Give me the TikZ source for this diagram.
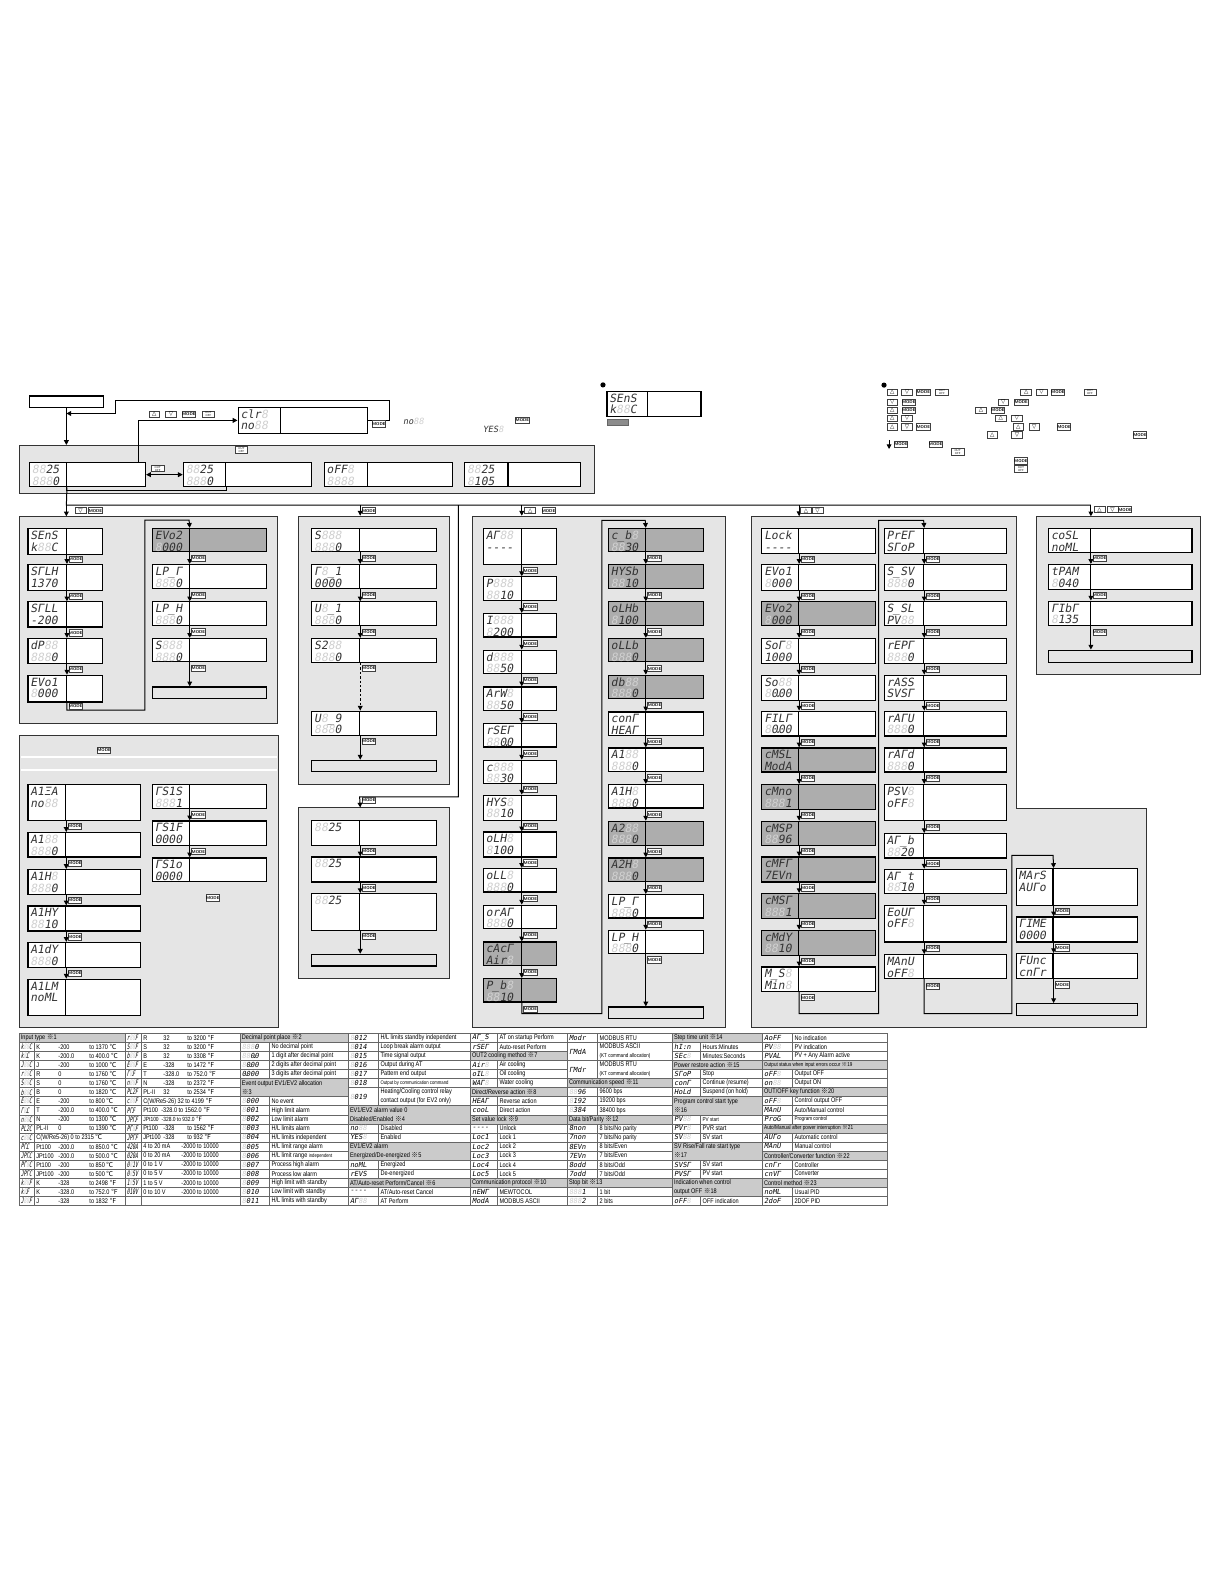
\documentclass[tikz,border=0pt]{standalone}
\usepackage{fontspec}
\setmainfont{Liberation Sans}
\newfontfamily\segfont[FakeSlant=0.18]{DejaVu Sans Mono}
\newfontfamily\tsegfont[FakeSlant=0.18,FakeStretch=0.6]{DejaVu Sans Mono}
\newfontfamily\tabfont[FakeStretch=0.82]{Liberation Sans}
\newfontfamily\symfont{DejaVu Sans}
\newfontfamily\cjk{Noto Sans CJK JP}
\usetikzlibrary{arrows.meta,positioning,calc,fit}
\definecolor{panelgrey}{HTML}{E5E5E5}
\definecolor{boxgrey}{HTML}{ADADAD}
\definecolor{headgrey}{HTML}{CBCBCB}
\definecolor{unlit}{HTML}{D0D0D0}
\newcommand\bk{{\color{unlit}8}}
\newcommand\dpt{\makebox[0pt]{.}}
\newcommand\km{{\cjk ※}}
\newcommand\dC{{\cjk ℃}}
\newcommand\dF{{\cjk ℉}}
\newcommand\rg[3]{\makebox[11bp][l]{#1}\makebox[15.5bp][l]{#2}to #3}
\newcommand\rgb[3]{\makebox[10bp][l]{#1}\makebox[12bp][l]{#2}to #3}
\newcommand\narrowseg{\tsegfont\fontsize{3.8}{3.8}\selectfont}
\newcommand\wideseg{\segfont\fontsize{3.5}{3.5}\selectfont}
\tikzset{panel/.style={draw=black!80,fill=panelgrey,line width=.5pt,inner sep=0pt},dbox/.style={draw,line width=.6pt,inner sep=0pt},endbox/.style={draw,fill=panelgrey,line width=.6pt,inner sep=0pt},seg/.style={anchor=west,inner sep=0pt,text=black!80,font=\segfont\fontsize{5.7}{5.7}\selectfont,text height=4.2pt,text depth=0pt},flow/.style={line width=.5pt,-{Triangle[length=2.4pt,width=2.4pt]}},wire/.style={line width=.5pt},keycap/.style={draw=black!75,line width=.3pt,fill=white,inner sep=0pt,minimum height=3.1bp},modekey/.style={keycap,minimum width=6.2bp,font=\sffamily\bfseries\fontsize{2.1}{2.1}\selectfont},arrkey/.style={keycap,minimum width=5.4bp,font=\symfont\fontsize{2.8}{2.8}\selectfont},outkey/.style={keycap,minimum width=6.2bp,align=center,font=\sffamily\fontsize{1.4}{1.5}\selectfont},tline/.style={draw=black!60,line width=.3pt},tcode/.style={anchor=west,inner sep=0pt,font=\tcf},tdesc/.style={anchor=west,inner sep=0pt,align=left,font=\tabfont\fontsize{3.4}{4.5}\selectfont}}
\newcommand\disp[9]{\node[dbox,fill=#7,fit={(#2,#5) (#3,#6)}] (#1) {};\node[dbox,fill=#7,fit={(#3,#5) (#4,#6)}] (#1d) {};\node[seg] (#1a) at ({#2+2},{#5+6.6}) {#8};\node[seg] (#1b) at ({#2+2},{#5+18.2}) {#9};}
\newcommand\dcol[4]{\foreach \n/\ya/\yb/\f/\ta/\tb in {#4}{\disp{\n}{#1}{#2}{#3}{\ya}{\yb}{\f}{\ta}{\tb}}}
\newcommand\fchain[1]{\foreach \src/\dst in {#1}{\draw[flow] (\src.south east) -- (\src.south east |- \dst.north);\node[modekey] (k\src) at ($(\src.south east)!.5!(\src.south east |- \dst.north)+(8.6,0)$) {MODE};}}
\newcommand\fend[2]{\draw[flow] (#1.south east) -- (#1.south east |- #2.north);\node[modekey] (k#1) at ($(#1.south east)+(8.6,5.5)$) {MODE};}
\newcommand\grp[4]{\def\gn{#1}\def\xa{#2}\def\xb{#3}\def\xc{#4}}
\newcommand\trow[4]{\draw[tline] (\xa,{1022.9+#1*8.96}) rectangle (\xb,{1022.9+(#1+#2)*8.96});\draw[tline] (\xb,{1022.9+#1*8.96}) rectangle (\xc,{1022.9+(#1+#2)*8.96});\node[tcode] (\gn#1c) at ({\xa+1.5},{1022.9+(#1+#2/2)*8.96}) {#3};\node[tdesc] (\gn#1d) at ({\xb+2},{1022.9+(#1+#2/2)*8.96}) {#4};}
\newcommand\thd[3]{\draw[tline,fill=headgrey] (\xa,{1022.9+#1*8.96}) rectangle (\xc,{1022.9+(#1+#2)*8.96});\node[tdesc] (\gn#1h) at ({\xa+1.5},{1022.9+(#1+#2/2)*8.96}) {#3};}

\begin{document}
\begin{tikzpicture}[x=0.505bp,y=-0.505bp]
\useasboundingbox (0,0) rectangle (1212,1568);
\fill[white] (0,0) rectangle (1212,1568);
\node[panel,fit={(19.7,441) (588.2,488.5)}] (p0) {};
\node[panel,fit={(19.5,511.6) (274.6,716.2)}] (p1) {};
\node[panel,fit={(19.5,727.8) (275.3,1017)}] (p2) {};
\node[panel,fit={(295.4,511) (444.6,776.6)}] (p3) {};
\node[panel,fit={(295.4,799.8) (444.6,968.7)}] (p3b) {};
\node[panel,fit={(468,511) (718,1017)}] (p4) {};
\draw[panel] (744.3,511) -- (1006,511) -- (1006,800.4) -- (1134.8,800.4) -- (1134.8,1017) -- (744.3,1017) -- cycle;
\coordinate (p5) at (744.3,511);
\node[panel,fit={(1025.9,511.6) (1188.3,667.7)}] (p6) {};
\draw[white,line width=.6pt] (20.5,749.3) -- (274.3,749.3);
\draw[white,line width=.9pt] (20.5,762.5) -- (274.3,762.5);
\node[dbox,fill=white,fit={(29,392) (102.4,403.3)}] (tl) {};
\disp{clr}{235.7}{277.8}{363.8}{403.3}{429}{white}{clr\bk}{no\bk\bk}
\disp{sens}{600.8}{641.3}{694}{387.2}{412.6}{white}{SEnS}{k\bk\bk C}
\node[draw=black!60,fill=black!45,inner sep=0pt,fit={(601.5,415.2) (622,420.8)}] (sw) {};
\node[circle,fill=black,inner sep=0pt,minimum size=2.6bp] (dot1) at (596.9,381) {};
\node[circle,fill=black,inner sep=0pt,minimum size=2.6bp] (dot2) at (875.1,381.2) {};
\node[seg,font=\segfont\fontsize{4.3}{4.3}\selectfont,text height=3.1pt] (ono) at (398.7,417.5) {no\bk\bk};
\node[seg,font=\segfont\fontsize{4.3}{4.3}\selectfont,text height=3.1pt] (oyes) at (477.5,425) {YES\bk};
\disp{runA}{29.2}{65.7}{144}{457.8}{481.9}{white}{\bk\bk25}{\bk\bk\bk0}
\disp{runB}{181.5}{223.6}{308.5}{457.8}{481.9}{white}{\bk\bk25}{\bk\bk\bk0}
\disp{runC}{321}{363.8}{448}{457.8}{481.9}{white}{oFF\bk}{\bk\bk\bk\bk}
\disp{runD}{460}{502.9}{575}{457.8}{481.9}{white}{\bk\bk25}{\bk105}
\dcol{27.7}{65.7}{101.3}{s1/523.1/548.9/white/SEnS/k\bk\bk C,%
s2/558.8/584.2/white/SΓLH/1370,%
s3/595.8/620.6/white/SΓLL/-200,%
s4/632/656.8/white/dP\bk\bk/\bk\bk\bk0,%
s5/668.4/694.8/white/EVo1/\bk000}
\dcol{150.8}{187.2}{263.7}{s6/523.1/546.2/boxgrey/EVo2/\bk000,%
s7/558.8/582.5/white/LP\_Γ/\bk\bk\bk0,%
s8/595.8/618.8/white/LP\_H/\bk\bk\bk0,%
s9/632/655.2/white/S\bk\bk\bk/\bk\bk\bk0}
\dcol{27.7}{65}{139}{a1/776.6/812/white/A1ΞA/no\bk\bk,%
a2/824.2/848.3/white/A1\bk\bk/\bk\bk\bk0,%
a3/860.8/885.2/white/A1H\bk/\bk\bk\bk0,%
a4/896.8/921.6/white/A1HY/\bk\bk10,%
a5/933/957.8/white/A1dY/\bk\bk\bk0,%
a6/969.4/1005.6/white/A1LM/noML}
\dcol{150.8}{187.2}{263.7}{a7/776.6/800.4/white/ΓS1S/\bk\bk\bk1,%
a8/812.6/836.7/white/ΓS1F/0000,%
a9/849.3/872.4/white/ΓS1o/0000}
\dcol{308.6}{356}{431.7}{v1/523.1/546.2/white/S\bk\bk\bk/\bk\bk\bk0,%
v2/558.8/582.5/white/Γ\bk\_1/0000,%
v3/595.8/619.5/white/U\bk\_1/\bk\bk\bk0,%
v4/632/655.8/white/S2\bk\bk/\bk\bk\bk0,%
v5/704/727.8/white/U\bk\_9/\bk\bk\bk0,%
w1/812/836.7/white/\bk\bk25/{},%
w2/848.3/873/white/\bk\bk25/{},%
w3/884.6/920.9/white/\bk\bk25/{}}
\dcol{478.6}{515.9}{551.2}{t1/523.1/558.8/white/AΓ\bk\bk/-{}-{}-{}-,%
t2/571/594.2/white/P\bk\bk\bk/\bk\bk10,%
t3/607.3/630.5/white/I\bk\bk\bk/\bk200,%
t4/643.6/666.7/white/d\bk\bk\bk/\bk\bk50,%
t5/680/703/white/ArW\bk/\bk\bk50,%
t6/716.2/739.4/white/rSEΓ/\bk\bk0\dpt0,%
t7/752.6/775.6/white/c\bk\bk\bk/\bk\bk30,%
t8/787.2/812/white/HYS\bk/\bk\bk10,%
t9/823.6/848.3/white/oLH\bk/\bk100,%
t10/859.8/883/white/oLL\bk/\bk\bk\bk0,%
t11/896.1/919.2/white/orAΓ/\bk\bk\bk0,%
t12/932.5/955.5/boxgrey/cAcΓ/Air\bk,%
t13/968.7/991.8/boxgrey/P\_b\bk/\bk\bk10}
\dcol{602.4}{638.7}{696.4}{u1/523.1/546.2/boxgrey/c\_b\bk/\bk\bk30,%
u2/558.8/582.5/boxgrey/HYSb/\bk\bk10,%
u3/595.8/618.8/boxgrey/oLHb/\bk100,%
u4/632/655.2/boxgrey/oLLb/\bk\bk\bk0,%
u5/668.4/691.5/boxgrey/db\bk\bk/\bk\bk\bk0,%
u6/704.7/727.8/white/conΓ/HEAΓ,%
u7/740.4/763.4/white/A1\bk\bk/\bk\bk\bk0,%
u8/776.6/799.8/white/A1H\bk/\bk\bk\bk0,%
u9/813/836.7/boxgrey/A2\bk\bk/\bk\bk\bk0,%
u10/849.3/872.4/boxgrey/A2H\bk/\bk\bk\bk0,%
u11/885.5/908.7/white/LP\_Γ/\bk\bk\bk0,%
u12/920.9/944/white/LP\_H/\bk\bk\bk0}
\dcol{754.2}{790.5}{866.4}{l1/523.1/547.9/white/Lock/-{}-{}-{}-,%
l2/558.8/584.2/white/EVo1/\bk000,%
l3/595.8/619.5/boxgrey/EVo2/\bk000,%
l4/632/656.8/white/SoΓ\bk/1000,%
l5/668.4/693.2/white/So\bk\bk/\bk0\dpt00,%
l6/704/728.5/white/FILΓ/\bk0\dpt00,%
l7/740.4/764.2/boxgrey/cMSL/ModA,%
l8/776.6/801.1/boxgrey/cMno/\bk\bk\bk1,%
l9/813/836.7/boxgrey/cMSP/\bk\bk96,%
l10/848.3/873/boxgrey/cMFΓ/7EVn,%
l11/884.6/909.3/boxgrey/cMSΓ/\bk\bk\bk1,%
l12/920.9/945.7/boxgrey/cMdY/\bk\bk10,%
l13/957.2/981.3/white/M\_S\bk/Min\bk}
\dcol{875.3}{914.3}{996}{r1/523.1/547.9/white/PrEΓ/SΓoP,%
r2/558.8/584.2/white/S\_SV/\bk\bk\bk0,%
r3/595.8/619.5/white/S\_SL/PV\bk\bk,%
r4/632/656.8/white/rEPΓ/\bk\bk\bk0,%
r5/668.4/693.2/white/rASS/SVSΓ,%
r6/704/728.5/white/rAΓU/\bk\bk\bk0,%
r7/740.4/764.2/white/rAΓd/\bk\bk\bk0,%
r8/776.6/812/white/PSV\bk/oFF\bk,%
r9/825.2/849.3/white/AΓ\_b/\bk\bk20,%
r10/860.5/884.6/white/AΓ\_t/\bk\bk10,%
r11/896.1/932.5/white/EoUΓ/oFF\bk,%
r12/945/968.7/white/MAnU/oFF\bk}
\dcol{1006}{1042.4}{1126.2}{m1/859.8/896.1/white/MArS/AUΓo,m2/907.7/932.5/white/ΓIME/0000,m3/944/968.7/white/FUnc/cnΓr}
\dcol{1038}{1079.3}{1180}{c1/523.1/546.9/white/coSL/noML,c2/558.8/583.2/white/tPAM/\bk040,c3/595.1/619.5/white/ΓIbΓ/\bk135}
\foreach \n/\ya/\yb/\xl/\xr in {e1/680/691.5/150.8/263.7,e3/752.6/763.4/308.6/431.7,e3b/944.7/956.2/308.6/431.7,e4/996.8/1008.3/602.4/696.4,e5/993.5/1005/1006/1126.2,e6/643.6/655.8/1038/1180}{\node[endbox,fit={(\xl,\ya) (\xr,\yb)}] (\n) {};}
\coordinate (bus) at (65.7,500);
\coordinate (vb) at (453.8,500);
\coordinate (lpa) at (385.4,396.8);
\coordinate (lpb) at (114.5,409.3);
\coordinate (lpc) at (65.7,409.3);
\draw[flow] (tl.south) -- (tl.south |- p0.north);
\draw[flow] (clrd.east) -| (lpa) -- (lpa -| lpb) |- (lpc);
\draw[flow] ($(runAd.north east)+(-7.5,0)$) |- (clr.west);
\draw[flow,{Triangle[length=2.4pt,width=2.4pt]}-{Triangle[length=2.4pt,width=2.4pt]}] (runAd.east) -- (runB.west);
\draw[wire] (runB.south east) -- ++(0,2.6) -| (runA.south east);
\draw[wire] (runA.south east) -- (bus) -- (bus -| c1.north east);
\draw[flow] (bus) -- (bus |- p1.north);
\draw[flow] (bus -| v1.north east) -- (v1.north east |- p3.north);
\draw[flow] (bus -| t1.north east) -- (t1.north east |- p4.north);
\draw[flow] (bus -| l1.north east) -- (l1.north east |- p5);
\draw[flow] (bus -| c1.north east) -- (c1.north east |- p6.north);
\draw[flow] (vb) |- (356,788.9) -- (w1.north east |- p3b.north);
\fchain{s1/s2,s2/s3,s3/s4,s4/s5,s6/s7,s7/s8,s8/s9}
\fend{s9}{e1}
\draw[flow] (s5.south east) |- (143.3,703) |- (187.2,514.9) -- (s6.north east);
\node[modekey] (ks5) at ($(s5.south east)+(8.6,3.5)$) {MODE};
\fchain{a1/a2,a2/a3,a3/a4,a4/a5,a5/a6,a7/a8,a8/a9}
\fchain{v1/v2,v2/v3,v3/v4,w1/w2,w2/w3}
\draw[flow,dash pattern=on 1.2pt off 1pt] (v4.south east) -- (v4.south east |- v5.north);
\node[modekey] (kv4) at ($(v4.south east)+(8.6,5.3)$) {MODE};
\fend{v5}{e3}
\fend{w3}{e3b}
\fchain{t1/t2,t2/t3,t3/t4,t4/t5,t5/t6,t6/t7,t7/t8,t8/t9,t9/t10,t10/t11,t11/t12,t12/t13}
\fchain{u1/u2,u2/u3,u3/u4,u4/u5,u5/u6,u6/u7,u7/u8,u8/u9,u9/u10,u10/u11,u11/u12}
\fend{u12}{e4}
\draw[flow] (t13.south east) |- (595.8,1003.4) |- (638.7,515) -- (u1.north east);
\node[modekey] (kt13) at ($(t13.south east)+(8.6,6.6)$) {MODE};
\fchain{l1/l2,l2/l3,l3/l4,l4/l5,l5/l6,l6/l7,l7/l8,l8/l9,l9/l10,l10/l11,l11/l12,l12/l13}
\fchain{r1/r2,r2/r3,r3/r4,r4/r5,r5/r6,r6/r7,r7/r8,r8/r9,r9/r10,r10/r11,r11/r12}
\draw[flow] (l13.south east) |- (869.7,1003.4) |- (914.3,515) -- (r1.north east);
\node[modekey] (kl13) at ($(l13.south east)+(8.6,5.7)$) {MODE};
\draw[flow] (r12.south east) |- (1001.7,1003.4) |- (1042.4,846.6) -- (m1.north east);
\node[modekey] (kr12) at ($(r12.south east)+(8.6,6.7)$) {MODE};
\fchain{m1/m2,m2/m3,c1/c2,c2/c3}
\fend{m3}{e5}
\fend{c3}{e6}
\foreach \n/\s/\x/\y/\lbl in {q1/arrkey/152.7/410/△,q2/arrkey/169.4/410/▽,q3/modekey/186.9/410/MODE,q4/outkey/206.4/410/OUT\\OFF,%
q5/modekey/375/419.5/MODE,q6/modekey/517.1/416/MODE,q7/outkey/239/445.3/OUT\\OFF,q8/outkey/156.1/463.8/OUT\\OFF,%
q9/arrkey/79.7/505.5/▽,q10/modekey/94.5/505.5/MODE,q11/modekey/365/505.5/MODE,q12/arrkey/524.8/505.5/△,q13/modekey/543/505.5/MODE,%
q14/arrkey/797.9/505.5/△,q15/arrkey/809.2/505.5/▽,q16/arrkey/1088.4/504.5/△,q17/arrkey/1101.2/504.5/▽,q18/modekey/1113.7/504.5/MODE,%
q19/modekey/365/792/MODE,q20/modekey/103/742.5/MODE,q21/modekey/210.6/888.7/MODE,%
g1/arrkey/883.2/388.2/△,g2/arrkey/897.9/388.2/▽,g3/modekey/914/388.2/MODE,g4/outkey/932.4/388.2/OUT\\OFF,%
g5/arrkey/1015.8/388.2/△,g6/arrkey/1031.1/388.2/▽,g7/modekey/1047.2/388.2/MODE,g8/outkey/1079/388.2/OUT\\OFF,%
g9/arrkey/883.2/398.4/▽,g10/modekey/899.6/398.4/MODE,g11/arrkey/993.2/398.4/▽,g12/modekey/1010.9/398.4/MODE,%
g13/arrkey/883.2/406/△,g14/modekey/899.6/406/MODE,g15/arrkey/971/406/△,g16/modekey/987.8/406/MODE,%
g17/arrkey/883.2/413.9/△,g18/arrkey/897.9/413.9/▽,g19/arrkey/990.7/413.9/△,g20/arrkey/1006.5/413.9/▽,%
g21/arrkey/883.2/422.5/△,g22/arrkey/897.9/422.5/▽,g23/modekey/914/422.5/MODE,g24/arrkey/1008/422.5/△,g25/arrkey/1023.8/422.5/▽,g26/modekey/1053.3/422.5/MODE,%
g27/arrkey/982.3/430.4/△,g28/arrkey/1006.8/430.4/▽,g29/modekey/1128.5/430.4/MODE,%
g30/modekey/891.9/440/MODE,g31/modekey/926.2/440/MODE,g32/outkey/948/447.2/OUT\\OFF,g33/modekey/1010.6/456.2/MODE,g34/outkey/1010.6/464.1/OUT\\OFF}{\node[\s] (\n) at (\x,\y) {\lbl};}
\coordinate (ga) at (880.1,435.5);
\coordinate (gb) at (880.1,444.5);
\draw[flow] (ga) -- (gb);
\let\tcf\narrowseg
\grp{ta}{18.8}{33.7}{123.8}
\thd{0}{1}{Input type \km1}
\trow{1}{1}{k\bk\bk C}{\rg{K}{-200}{1370 \dC}}
\trow{2}{1}{k\bk\dpt C}{\rg{K}{-200.0}{400.0 \dC}}
\trow{3}{1}{J\bk\bk C}{\rg{J}{-200}{1000 \dC}}
\trow{4}{1}{r\bk\bk C}{\rg{R}{0}{1760 \dC}}
\trow{5}{1}{S\bk\bk C}{\rg{S}{0}{1760 \dC}}
\trow{6}{1}{b\bk\bk C}{\rg{B}{0}{1820 \dC}}
\trow{7}{1}{E\bk\bk C}{\rg{E}{-200}{800 \dC}}
\trow{8}{1}{Γ\bk\dpt C}{\rg{T}{-200.0}{400.0 \dC}}
\trow{9}{1}{n\bk\bk C}{\rg{N}{-200}{1300 \dC}}
\trow{10}{1}{PL2C}{\rg{PL-II}{0}{1390 \dC}}
\trow{11}{1}{c\bk\bk C}{C(W/Re5-26) 0 to 2315 \dC}
\trow{12}{1}{PΓ\dpt C}{\rg{Pt100}{-200.0}{850.0 \dC}}
\trow{13}{1}{JPΓ\dpt C}{\rg{JPt100}{-200.0}{500.0 \dC}}
\trow{14}{1}{PΓ\bk C}{\rg{Pt100}{-200}{850 \dC}}
\trow{15}{1}{JPΓC}{\rg{JPt100}{-200}{500 \dC}}
\trow{16}{1}{k\bk\bk F}{\rg{K}{-328}{2498 \dF}}
\trow{17}{1}{k\bk\dpt F}{\rg{K}{-328.0}{752.0 \dF}}
\trow{18}{1}{J\bk\bk F}{\rg{J}{-328}{1832 \dF}}
\grp{tb}{123.8}{139.6}{237.6}
\trow{0}{1}{r\bk\bk F}{\rgb{R}{32}{3200 \dF}}
\trow{1}{1}{S\bk\bk F}{\rgb{S}{32}{3200 \dF}}
\trow{2}{1}{b\bk\bk F}{\rgb{B}{32}{3308 \dF}}
\trow{3}{1}{E\bk\bk F}{\rgb{E}{-328}{1472 \dF}}
\trow{4}{1}{Γ\bk\dpt F}{\rgb{T}{-328.0}{752.0 \dF}}
\trow{5}{1}{n\bk\bk F}{\rgb{N}{-328}{2372 \dF}}
\trow{6}{1}{PL2F}{\rgb{PL-II}{32}{2534 \dF}}
\trow{7}{1}{c\bk\bk F}{C(W/Re5-26) 32 to 4199 \dF}
\trow{8}{1}{PΓ\dpt F}{Pt100\enspace -328.0 to 1562.0 \dF}
\trow{9}{1}{JPΓ\dpt F}{{\fontsize{3}{3}\selectfont JPt100\enspace -328.0 to 932.0 \dF}}
\trow{10}{1}{PΓ\bk F}{\rgb{Pt100}{-328}{1562 \dF}}
\trow{11}{1}{JPΓF}{\rgb{JPt100}{-328}{932 \dF}}
\trow{12}{1}{420A}{\makebox[19bp][l]{4 to 20 mA}-2000 to 10000}
\trow{13}{1}{020A}{\makebox[19bp][l]{0 to 20 mA}-2000 to 10000}
\trow{14}{1}{0\bk1V}{\makebox[19bp][l]{0 to 1 V}-2000 to 10000}
\trow{15}{1}{0\bk5V}{\makebox[19bp][l]{0 to 5 V}-2000 to 10000}
\trow{16}{1}{1\bk5V}{\makebox[19bp][l]{1 to 5 V}-2000 to 10000}
\trow{17}{1}{010V}{\makebox[19bp][l]{0 to 10 V}-2000 to 10000}
\trow{18}{1}{}{}
\let\tcf\wideseg
\grp{tc}{237.6}{266.4}{344.6}
\thd{0}{1}{Decimal point place \km2}
\trow{1}{1}{\bk\bk\bk0}{No decimal point}
\trow{2}{1}{\bk\bk0\dpt0}{1 digit after decimal point}
\trow{3}{1}{\bk0\dpt00}{2 digits after decimal point}
\trow{4}{1}{0\dpt000}{3 digits after decimal point}
\thd{5}{2}{Event output EV1/EV2 allocation\\\km3}
\trow{7}{1}{\bk000}{No event}
\trow{8}{1}{\bk001}{High limit alarm}
\trow{9}{1}{\bk002}{Low limit alarm}
\trow{10}{1}{\bk003}{H/L limits alarm}
\trow{11}{1}{\bk004}{H/L limits independent}
\trow{12}{1}{\bk005}{H/L limit range alarm}
\trow{13}{1}{\bk006}{H/L limit range {\fontsize{2.6}{3}\selectfont independent}}
\trow{14}{1}{\bk007}{Process high alarm}
\trow{15}{1}{\bk008}{Process low alarm}
\trow{16}{1}{\bk009}{High limit with standby}
\trow{17}{1}{\bk010}{Low limit with standby}
\trow{18}{1}{\bk011}{H/L limits with standby}
\grp{td}{344.6}{374.3}{465.4}
\trow{0}{1}{\bk012}{H/L limits standby independent}
\trow{1}{1}{\bk014}{Loop break alarm output}
\trow{2}{1}{\bk015}{Time signal output}
\trow{3}{1}{\bk016}{Output during AT}
\trow{4}{1}{\bk017}{Pattern end output}
\trow{5}{1}{\bk018}{{\fontsize{2.6}{3}\selectfont Output by communication command}}
\trow{6}{2}{\bk019}{Heating/Cooling control relay\\contact output (for EV2 only)}
\thd{8}{2}{EV1/EV2 alarm value 0\\Disabled/Enabled \km4}
\trow{10}{1}{no\bk\bk}{Disabled}
\trow{11}{1}{YES\bk}{Enabled}
\thd{12}{2}{EV1/EV2 alarm\\Energized/De-energized \km5}
\trow{14}{1}{noML}{Energized}
\trow{15}{1}{rEVS}{De-energized}
\thd{16}{1}{AT/Auto-reset Perform/Cancel \km6}
\trow{17}{1}{-{}-{}-{}-}{AT/Auto-reset Cancel}
\trow{18}{1}{AΓ\bk\bk}{AT Perform}
\grp{te}{465.4}{492.1}{561.4}
\trow{0}{1}{AΓ\_S}{AT on startup Perform}
\trow{1}{1}{rSEΓ}{Auto-reset Perform}
\thd{2}{1}{OUT2 cooling method \km7}
\trow{3}{1}{Air\bk}{Air cooling}
\trow{4}{1}{oIL\bk}{Oil cooling}
\trow{5}{1}{WAΓ\bk}{Water cooling}
\thd{6}{1}{Direct/Reverse action \km8}
\trow{7}{1}{HEAΓ}{Reverse action}
\trow{8}{1}{cooL}{Direct action}
\thd{9}{1}{Set value lock \km9}
\trow{10}{1}{-{}-{}-{}-}{Unlock}
\trow{11}{1}{Loc1}{Lock 1}
\trow{12}{1}{Loc2}{Lock 2}
\trow{13}{1}{Loc3}{Lock 3}
\trow{14}{1}{Loc4}{Lock 4}
\trow{15}{1}{Loc5}{Lock 5}
\thd{16}{1}{Communication protocol \km10}
\trow{17}{1}{nEWΓ}{MEWTOCOL}
\trow{18}{1}{ModA}{MODBUS ASCII}
\grp{tf}{561.4}{591.2}{665.4}
\trow{0}{1}{Modr}{MODBUS RTU}
\trow{1}{2}{ΓMdA}{MODBUS ASCII\\{\fontsize{2.8}{3}\selectfont (KT command allocation)}}
\trow{3}{2}{ΓMdr}{MODBUS RTU\\{\fontsize{2.8}{3}\selectfont (KT command allocation)}}
\thd{5}{1}{Communication speed \km11}
\trow{6}{1}{\bk\bk96}{9600 bps}
\trow{7}{1}{\bk192}{19200 bps}
\trow{8}{1}{\bk384}{38400 bps}
\thd{9}{1}{Data bit/Parity \km12}
\trow{10}{1}{8non}{8 bits/No parity}
\trow{11}{1}{7non}{7 bits/No parity}
\trow{12}{1}{8EVn}{8 bits/Even}
\trow{13}{1}{7EVn}{7 bits/Even}
\trow{14}{1}{8odd}{8 bits/Odd}
\trow{15}{1}{7odd}{7 bits/Odd}
\thd{16}{1}{Stop bit \km13}
\trow{17}{1}{\bk\bk\bk1}{1 bit}
\trow{18}{1}{\bk\bk\bk2}{2 bits}
\grp{tg}{665.4}{693.2}{754.5}
\thd{0}{1}{Step time unit \km14}
\trow{1}{1}{hI:n}{Hours:Minutes}
\trow{2}{1}{SEc\bk}{Minutes:Seconds}
\thd{3}{1}{Power restore action \km15}
\trow{4}{1}{SΓoP}{Stop}
\trow{5}{1}{conΓ}{Continue (resume)}
\trow{6}{1}{HoLd}{Suspend (on hold)}
\thd{7}{2}{Program control start type\\\km16}
\trow{9}{1}{PV\bk\bk}{{\fontsize{2.8}{3}\selectfont PV start}}
\trow{10}{1}{PVr\bk}{PVR start}
\trow{11}{1}{SV\bk\bk}{SV start}
\thd{12}{2}{SV Rise/Fall rate start type\\\km17}
\trow{14}{1}{SVSΓ}{SV start}
\trow{15}{1}{PVSΓ}{PV start}
\thd{16}{2}{Indication when control\\output OFF \km18}
\trow{18}{1}{oFF\bk}{OFF indication}
\grp{th}{754.5}{784.2}{878.3}
\trow{0}{1}{AoFF}{No indication}
\trow{1}{1}{PV\bk\bk}{PV indication}
\trow{2}{1}{PVAL}{PV + Any Alarm active}
\thd{3}{1}{{\fontsize{2.8}{3}\selectfont Output status when input errors occur \km19}}
\trow{4}{1}{oFF\bk}{Output OFF}
\trow{5}{1}{on\bk\bk}{Output ON}
\thd{6}{1}{OUT/OFF key function \km20}
\trow{7}{1}{oFF\bk}{Control output OFF}
\trow{8}{1}{MAnU}{Auto/Manual control}
\trow{9}{1}{ProG}{{\fontsize{2.8}{3}\selectfont Program control}}
\thd{10}{1}{{\fontsize{2.9}{3}\selectfont Auto/Manual after power interruption \km21}}
\trow{11}{1}{AUΓo}{Automatic control}
\trow{12}{1}{MAnU}{Manual control}
\thd{13}{1}{Controller/Converter function \km22}
\trow{14}{1}{cnΓr}{Controller}
\trow{15}{1}{cnVΓ}{Converter}
\thd{16}{1}{Control method \km23}
\trow{17}{1}{noML}{Usual PID}
\trow{18}{1}{2doF}{2DOF PID}
\end{tikzpicture}
\end{document}
